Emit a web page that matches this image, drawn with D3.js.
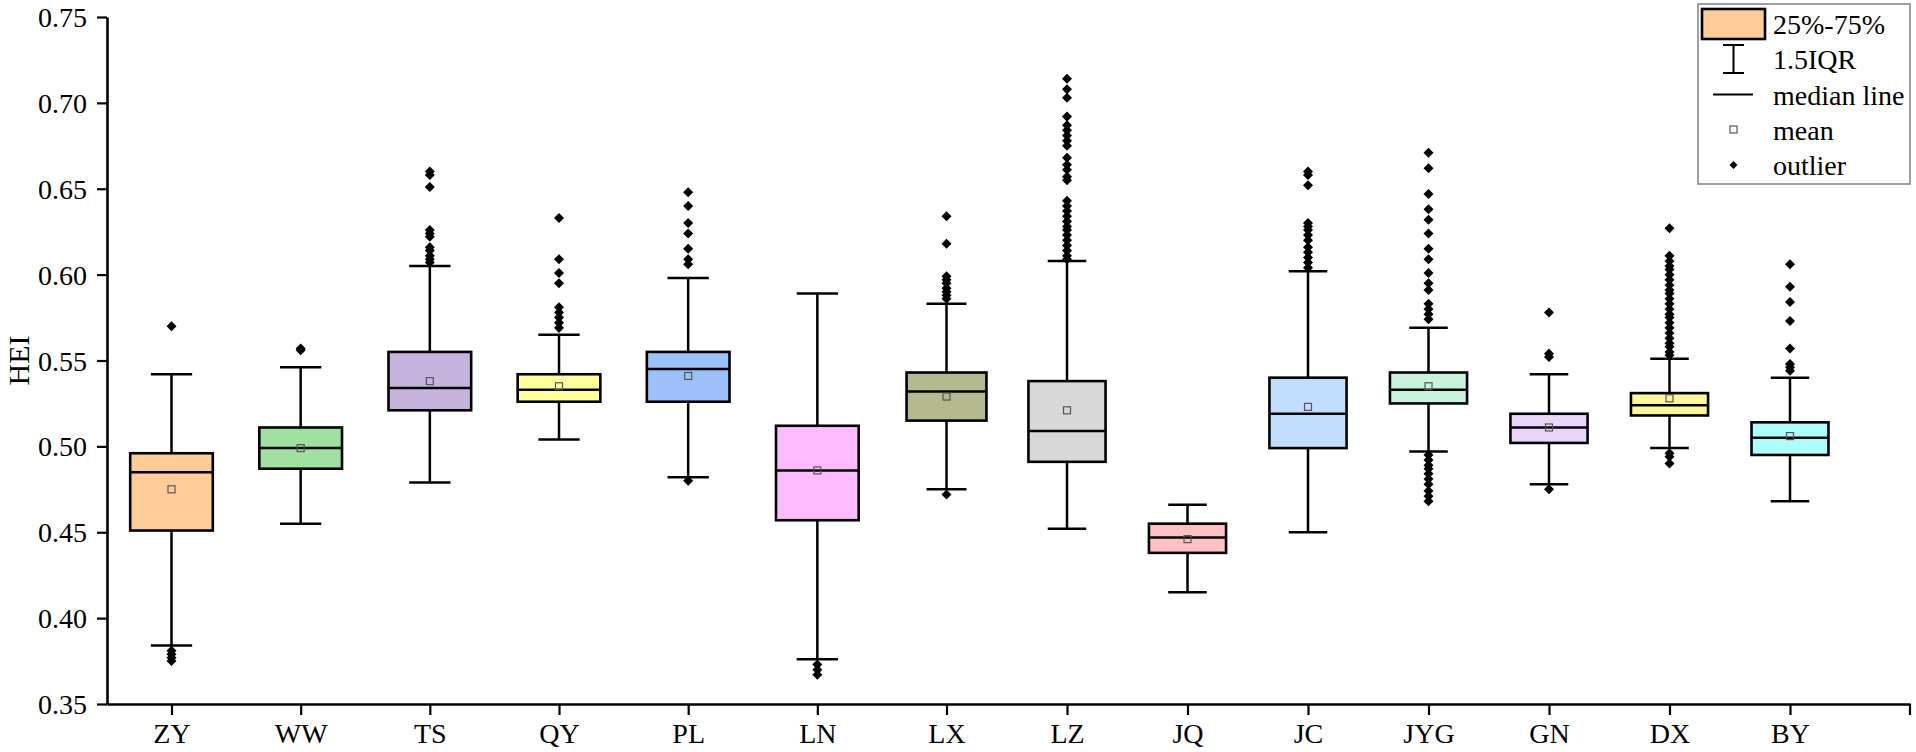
<!DOCTYPE html>
<html>
<head>
<meta charset="utf-8">
<script src="https://cdn.jsdelivr.net/npm/d3@7"></script>
<style>
    body { margin: 0; background: #fff; }
    text { font-family: "Liberation Serif", "Times New Roman", serif; fill: #000; }
</style>
</head>
<body>
<div id="chart"></div>
<script>
'use strict';

// categories along x
const categories = ['ZY', 'WW', 'TS', 'QY', 'PL', 'LN', 'LX', 'LZ', 'JQ', 'JC', 'JYG', 'GN', 'DX', 'BY'];

// box stats
const q1Values     = [0.451, 0.487, 0.521, 0.526, 0.526, 0.457, 0.515, 0.491, 0.438, 0.499, 0.525, 0.502, 0.518, 0.495];
const medianValues = [0.485, 0.499, 0.534, 0.533, 0.545, 0.486, 0.532, 0.509, 0.447, 0.519, 0.533, 0.511, 0.524, 0.505];
const q3Values     = [0.496, 0.511, 0.555, 0.542, 0.555, 0.512, 0.543, 0.538, 0.455, 0.540, 0.543, 0.519, 0.531, 0.514];
const meanValues   = [0.475, 0.499, 0.538, 0.535, 0.541, 0.486, 0.529, 0.521, 0.446, 0.523, 0.535, 0.511, 0.528, 0.506];
const whiskerLow   = [0.384, 0.455, 0.479, 0.504, 0.482, 0.376, 0.475, 0.452, 0.415, 0.450, 0.497, 0.478, 0.499, 0.468];
const whiskerHigh  = [0.542, 0.546, 0.605, 0.565, 0.598, 0.589, 0.583, 0.608, 0.466, 0.602, 0.569, 0.542, 0.551, 0.540];

// outliers per category
const outliers = [
    [0.570, 0.381, 0.379, 0.377, 0.375],
    [0.557, 0.556],
    [0.660, 0.658, 0.651, 0.626, 0.624, 0.622, 0.616, 0.614, 0.611, 0.609, 0.607],
    [0.633, 0.609, 0.601, 0.595, 0.581, 0.578, 0.575, 0.572, 0.569],
    [0.648, 0.640, 0.630, 0.624, 0.615, 0.609, 0.606, 0.480],
    [0.373, 0.370, 0.367],
    [0.634, 0.618, 0.599, 0.597, 0.595, 0.592, 0.590, 0.588, 0.586, 0.472],
    [0.714, 0.708, 0.703, 0.692, 0.687, 0.684, 0.681, 0.678, 0.675, 0.668, 0.664, 0.661, 0.657, 0.655,
     0.643, 0.640, 0.637, 0.634, 0.631, 0.628, 0.626, 0.623, 0.620, 0.617, 0.614, 0.611, 0.609],
    [],
    [0.660, 0.658, 0.652, 0.630, 0.628, 0.626, 0.623, 0.620, 0.616, 0.613, 0.610, 0.607, 0.604],
    [0.671, 0.662, 0.647, 0.638, 0.632, 0.624, 0.615, 0.609, 0.601, 0.595, 0.591, 0.583, 0.580, 0.577, 0.574,
     0.495, 0.492, 0.489, 0.487, 0.484, 0.481, 0.478, 0.474, 0.471, 0.468],
    [0.578, 0.554, 0.552, 0.475],
    [0.627, 0.611, 0.608, 0.605, 0.603, 0.600, 0.597, 0.594, 0.591, 0.589, 0.586, 0.583, 0.580, 0.577, 0.575,
     0.572, 0.569, 0.566, 0.563, 0.560, 0.558, 0.555, 0.553, 0.496, 0.494, 0.490],
    [0.606, 0.593, 0.584, 0.573, 0.557, 0.548, 0.546, 0.544]
];

// y tick labels
const yTicks = [0.35, 0.40, 0.45, 0.50, 0.55, 0.60, 0.65, 0.70, 0.75];

// legend labels
const legendLabels = ['25%-75%', '1.5IQR', 'median line', 'mean', 'outlier'];

// fill per box
const boxColors = ['#ffcc99', '#a0e0a0', '#c6b4de', '#ffffa0', '#9cc0fa', '#ffbbff', '#b5b98f',
                   '#d8d8d8', '#ffc2c2', '#c2deff', '#c8f2dc', '#ead6fa', '#fff6a0', '#adfdfd'];

class BoxChart {

    constructor(_ref) {
        this.parent = _ref;

        // zip arrays into rows
        this.data = categories.map((c, i) => ({
            name: c,
            idx: i,
            q1: q1Values[i],
            median: medianValues[i],
            q3: q3Values[i],
            mean: meanValues[i],
            lo: whiskerLow[i],
            hi: whiskerHigh[i],
            out: outliers[i],
            color: boxColors[i]
        }));

        this.initVis();
    }

    initVis() {
        const vis = this;

        // Config
        vis.w = 1916;
        vis.h = 752;
        vis.left = 107;
        vis.right = 1910;
        vis.top = 17;
        vis.bottom = 704;

        vis.svg = d3.select(`#${vis.parent}`)
            .append('svg')
            .attr('width', vis.w)
            .attr('height', vis.h);

        // x: the source figure spaces the left half a little wider than the right
        vis.xScale = d3.scaleLinear()
            .domain([-0.5, 0, 6, 13, 14])
            .range([vis.left, 171.5, 946.5, 1790, vis.right]);

        vis.yScale = d3.scaleLinear()
            .domain([0.35, 0.75])
            .range([vis.bottom, vis.top]);

        // box width follows local category spacing
        vis.boxW = i => 0.64 * (vis.xScale(i + 0.5) - vis.xScale(i - 0.5));

        vis.drawAxes();
        vis.updateVis();
        vis.drawLegend();
    }

    drawAxes() {
        const vis = this;

        // y axis
        const yAxis = d3.axisLeft(vis.yScale)
            .tickValues(yTicks)
            .tickFormat(d3.format('.2f'))
            .tickSize(10)
            .tickSizeOuter(0)
            .tickPadding(10);

        const yG = vis.svg.append('g')
            .attr('transform', `translate(${vis.left},0)`)
            .call(yAxis);
        yG.select('.domain').attr('stroke-width', 2.6);
        yG.selectAll('.tick line').attr('stroke-width', 2.2);
        yG.selectAll('.tick text')
            .style('font-size', '28px')
            .attr('dy', '0.34em');

        // x axis
        const xAxis = d3.axisBottom(vis.xScale)
            .tickValues(d3.range(categories.length))
            .tickFormat(i => categories[i])
            .tickSize(11)
            .tickSizeOuter(0)
            .tickPadding(8);

        const xG = vis.svg.append('g')
            .attr('transform', `translate(0,${vis.bottom})`)
            .call(xAxis);
        xG.select('.domain').attr('stroke-width', 2.6);
        xG.selectAll('.tick line').attr('stroke-width', 2.2);
        xG.selectAll('.tick text')
            .style('font-size', '28px');

        // end tick on the right
        xG.append('line')
            .attr('x1', vis.right)
            .attr('x2', vis.right)
            .attr('y1', 0)
            .attr('y2', 11)
            .attr('stroke', '#000')
            .attr('stroke-width', 2.2);

        // y title
        vis.svg.append('text')
            .attr('transform', `translate(29,${(vis.top + vis.bottom) / 2}) rotate(-90)`)
            .attr('text-anchor', 'middle')
            .style('font-size', '30px')
            .text('HEI');
    }

    updateVis() {
        const vis = this;

        const diamond = d3.symbol().type(d3.symbolDiamond2).size(64);

        vis.svg.append('g')
            .attr('class', 'boxes')
            .selectAll('.boxG')
            .data(vis.data)
            .join('g')
            .attr('class', 'boxG')
            .each(function(d) {
                const g = d3.select(this);
                const cx = vis.xScale(d.idx);
                const bw = vis.boxW(d.idx);
                const cap = bw / 2;

                // whisker stem
                g.append('line')
                    .attr('x1', cx).attr('x2', cx)
                    .attr('y1', vis.yScale(d.lo))
                    .attr('y2', vis.yScale(d.hi))
                    .attr('stroke', '#000')
                    .attr('stroke-width', 2.5);

                // caps
                [d.lo, d.hi].forEach(v => {
                    g.append('line')
                        .attr('x1', cx - cap / 2).attr('x2', cx + cap / 2)
                        .attr('y1', vis.yScale(v)).attr('y2', vis.yScale(v))
                        .attr('stroke', '#000')
                        .attr('stroke-width', 2.5);
                });

                // box
                g.append('rect')
                    .attr('x', cx - bw / 2)
                    .attr('y', vis.yScale(d.q3))
                    .attr('width', bw)
                    .attr('height', vis.yScale(d.q1) - vis.yScale(d.q3))
                    .attr('fill', d.color)
                    .attr('stroke', '#000')
                    .attr('stroke-width', 2.6);

                // median
                g.append('line')
                    .attr('x1', cx - bw / 2).attr('x2', cx + bw / 2)
                    .attr('y1', vis.yScale(d.median)).attr('y2', vis.yScale(d.median))
                    .attr('stroke', '#000')
                    .attr('stroke-width', 2.5);

                // mean
                g.append('rect')
                    .attr('x', cx - 3.5)
                    .attr('y', vis.yScale(d.mean) - 3.5)
                    .attr('width', 7)
                    .attr('height', 7)
                    .attr('fill', 'none')
                    .attr('stroke', '#555')
                    .attr('stroke-width', 1.2);

                // outliers
                g.selectAll('.outlier')
                    .data(d.out)
                    .join('path')
                    .attr('class', 'outlier')
                    .attr('transform', v => `translate(${cx},${vis.yScale(v)})`)
                    .attr('d', diamond)
                    .attr('fill', '#000');
            });
    }

    drawLegend() {
        const vis = this;

        const lg = vis.svg.append('g')
            .attr('class', 'legend');

        // frame
        lg.append('rect')
            .attr('x', 1698)
            .attr('y', 4)
            .attr('width', 212)
            .attr('height', 180)
            .attr('fill', '#fff')
            .attr('stroke', '#888')
            .attr('stroke-width', 1.6);

        const sx = 1733.5;
        const rowY = [24, 59, 94.5, 129.5, 165];

        // 25%-75% swatch
        lg.append('rect')
            .attr('x', 1702)
            .attr('y', 9)
            .attr('width', 63)
            .attr('height', 30)
            .attr('fill', boxColors[0])
            .attr('stroke', '#000')
            .attr('stroke-width', 2.6);

        // 1.5IQR glyph
        lg.append('line')
            .attr('x1', sx).attr('x2', sx)
            .attr('y1', 45).attr('y2', 73)
            .attr('stroke', '#000').attr('stroke-width', 2);
        [45, 73].forEach(y => {
            lg.append('line')
                .attr('x1', sx - 10.5).attr('x2', sx + 10.5)
                .attr('y1', y).attr('y2', y)
                .attr('stroke', '#000').attr('stroke-width', 2);
        });

        // median line
        lg.append('line')
            .attr('x1', 1713).attr('x2', 1753)
            .attr('y1', rowY[2]).attr('y2', rowY[2])
            .attr('stroke', '#000').attr('stroke-width', 2.2);

        // mean
        lg.append('rect')
            .attr('x', sx - 3.5).attr('y', rowY[3] - 3.5)
            .attr('width', 7).attr('height', 7)
            .attr('fill', '#fff')
            .attr('stroke', '#555')
            .attr('stroke-width', 1.2);

        // outlier
        lg.append('path')
            .attr('transform', `translate(${sx},${rowY[4]})`)
            .attr('d', d3.symbol().type(d3.symbolDiamond2).size(40))
            .attr('fill', '#000');

        // labels
        lg.selectAll('.legText')
            .data(legendLabels)
            .join('text')
            .attr('class', 'legText')
            .attr('x', 1773)
            .attr('y', (d, i) => rowY[i] + 10)
            .style('font-size', '28px')
            .text(d => d);
    }
}

new BoxChart('chart');
</script>
</body>
</html>
